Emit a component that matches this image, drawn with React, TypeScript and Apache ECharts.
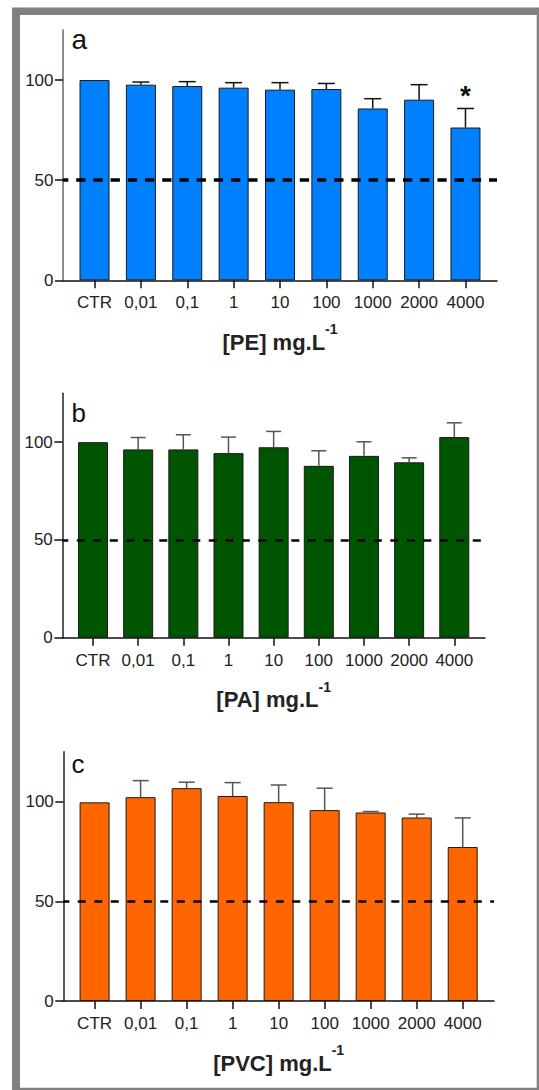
import React, { useEffect, useRef } from 'react';
import * as echarts from 'echarts';

const categories = ['CTR', '0,01', '0,1', '1', '10', '100', '1000', '2000', '4000'];
const yTicks = [0, 50, 100];
const thresholdValue = 50;

const peMean = [100, 97.7, 97.0, 96.2, 95.2, 95.5, 85.8, 90.2, 76.3];
const peSD = [0, 1.3, 2.2, 2.5, 3.5, 2.8, 4.9, 7.5, 9.5];
const peSignificant = [0, 0, 0, 0, 0, 0, 0, 0, 1];

const paMean = [100, 96.3, 96.3, 94.4, 97.4, 87.9, 93.0, 89.7, 102.6];
const paSD = [0, 6.1, 7.5, 8.2, 8.1, 7.7, 7.2, 2.3, 7.3];
const paSignificant = [0, 0, 0, 0, 0, 0, 0, 0, 0];

const pvcMean = [99.6, 102.2, 106.7, 102.8, 99.7, 95.7, 94.5, 92.0, 77.2];
const pvcSD = [0, 8.3, 3.0, 6.7, 8.6, 11.0, 0.5, 1.7, 14.6];
const pvcSignificant = [0, 0, 0, 0, 0, 0, 0, 0, 0];

const panelLetters = ['a', 'b', 'c'];
const polymers = ['PE', 'PA', 'PVC'];

const FONT = '"Liberation Sans", Arial, Helvetica, sans-serif';

const panels = [
  {
    mean: peMean, sd: peSD, sig: peSignificant, color: '#0080FF', errColor: '#111111',
    yAxisColor: '#666666', grid: { left: 63, top: 30, width: 434, height: 250.3 },
    letterPos: [71.5, 39.6], letterSize: 28, dash: [9.3, 7.9], dashWidth: 3.5, dashOffset: 4, cap: 17,
  },
  {
    mean: paMean, sd: paSD, sig: paSignificant, color: '#005500', errColor: '#555555',
    yAxisColor: '#222222', grid: { left: 62.3, top: 393.3, width: 422.7, height: 244.4 },
    letterPos: [71.5, 412.7], letterSize: 26, dash: [8, 8.5], dashWidth: 2.5, dashOffset: 2, cap: 15,
  },
  {
    mean: pvcMean, sd: pvcSD, sig: pvcSignificant, color: '#FF6600', errColor: '#555555',
    yAxisColor: '#222222', grid: { left: 63.3, top: 751.7, width: 430.7, height: 249.3 },
    letterPos: [71.5, 764.3], letterSize: 26, dash: [8, 8.5], dashWidth: 2.5, dashOffset: 2, cap: 16,
  },
];

export default function App() {
  const ref = useRef<HTMLDivElement>(null);

  useEffect(() => {
    if (!ref.current) return;
    const chart = echarts.init(ref.current, undefined, { renderer: 'svg' });
    const catIdx = categories.map((_, i) => i);

    const grids: any[] = [];
    const xAxes: any[] = [];
    const yAxes: any[] = [];
    const series: any[] = [];
    const graphics: any[] = [
      { type: 'rect', z: -10, shape: { x: 12, y: 7.5, width: 527, height: 1082.5 }, style: { fill: '#808080' }, silent: true },
      { type: 'rect', z: -9, shape: { x: 20, y: 15, width: 516.7, height: 1072.7 }, style: { fill: '#ffffff' }, silent: true },
    ];

    panels.forEach((p, i) => {
      grids.push({ ...p.grid, containLabel: false, outerBoundsMode: 'none' });
      xAxes.push({
        type: 'value',
        gridIndex: i,
        min: -0.68,
        max: 8.68,
        splitLine: { show: false },
        axisLine: { show: true, onZero: false, lineStyle: { color: '#111111', width: 1.5 } },
        axisTick: { show: true, customValues: catIdx, length: 8, lineStyle: { color: '#111111', width: 1.5 } },
        axisLabel: {
          customValues: catIdx,
          formatter: (v: number) => categories[Math.round(v)] ?? '',
          fontSize: 17, color: '#222222', fontFamily: FONT, margin: 14,
        },
        name: `{m|[${polymers[i]}] mg.L}{s|-1}`,
        nameLocation: 'middle',
        nameGap: 42,
        nameMoveOverlap: false,
        nameTextStyle: {
          rich: {
            m: { fontSize: 22, fontWeight: 'bold', lineHeight: 40, color: '#222222', fontFamily: FONT },
            s: { fontSize: 14, fontWeight: 'bold', lineHeight: 14, verticalAlign: 'top', color: '#222222', fontFamily: FONT },
          },
        },
      });
      yAxes.push({
        type: 'value',
        gridIndex: i,
        min: 0,
        max: 125,
        splitLine: { show: false },
        axisLine: { show: true, onZero: false, lineStyle: { color: p.yAxisColor, width: 1.5 } },
        axisTick: { show: true, customValues: yTicks, length: 8, lineStyle: { color: '#111111', width: 1.5 } },
        axisLabel: { customValues: yTicks, fontSize: 17, color: '#222222', fontFamily: FONT, margin: 9.5 },
      });
      series.push({
        type: 'bar',
        xAxisIndex: i,
        yAxisIndex: i,
        barWidth: 30,
        data: p.mean.map((v, j) => [j, v]),
        itemStyle: { color: p.color, borderColor: '#1a1a1a', borderWidth: 1 },
        markLine: {
          silent: true,
          symbol: 'none',
          label: { show: false },
          lineStyle: { color: '#000000', type: p.dash, width: p.dashWidth, dashOffset: p.dashOffset },
          data: [{ yAxis: thresholdValue }],
        },
        z: 2,
      });
      series.push({
        type: 'custom',
        xAxisIndex: i,
        yAxisIndex: i,
        z: 5,
        data: p.mean.map((v, j) => [j, v, p.sd[j], p.sig[j]]),
        encode: { x: 0, y: 1 },
        renderItem: (_params: any, api: any) => {
          const x = api.value(0);
          const m = api.value(1);
          const s = api.value(2);
          const sig = api.value(3);
          const base = api.coord([x, m]);
          const top = api.coord([x, m + s]);
          const children: any[] = [];
          const st = { stroke: p.errColor, lineWidth: 1.5 };
          if (s > 0) {
            children.push({ type: 'line', shape: { x1: base[0], y1: base[1], x2: top[0], y2: top[1] }, style: st });
            children.push({ type: 'line', shape: { x1: top[0] - p.cap / 2, y1: top[1], x2: top[0] + p.cap / 2, y2: top[1] }, style: st });
          }
          if (sig) {
            children.push({
              type: 'text',
              style: {
                text: '*', x: top[0], y: top[1] - 13, fill: '#111111', fontSize: 28, fontWeight: 'bold',
                fontFamily: FONT, align: 'center', verticalAlign: 'middle',
              },
            });
          }
          return { type: 'group', children };
        },
      });
      graphics.push({
        type: 'text',
        z: 10,
        x: p.letterPos[0],
        y: p.letterPos[1],
        style: {
          text: panelLetters[i], fontSize: p.letterSize, fill: '#111111', fontFamily: FONT,
          align: 'left', verticalAlign: 'middle',
        },
      });
    });

    chart.setOption({
      animation: false,
      backgroundColor: '#ffffff',
      grid: grids,
      xAxis: xAxes,
      yAxis: yAxes,
      series,
      graphic: graphics,
    });
    return () => chart.dispose();
  }, []);

  return (
    <div
      ref={ref}
      style={{ position: 'absolute', left: 0, top: 0, width: 539, height: 1090 }}
    />
  );
}
